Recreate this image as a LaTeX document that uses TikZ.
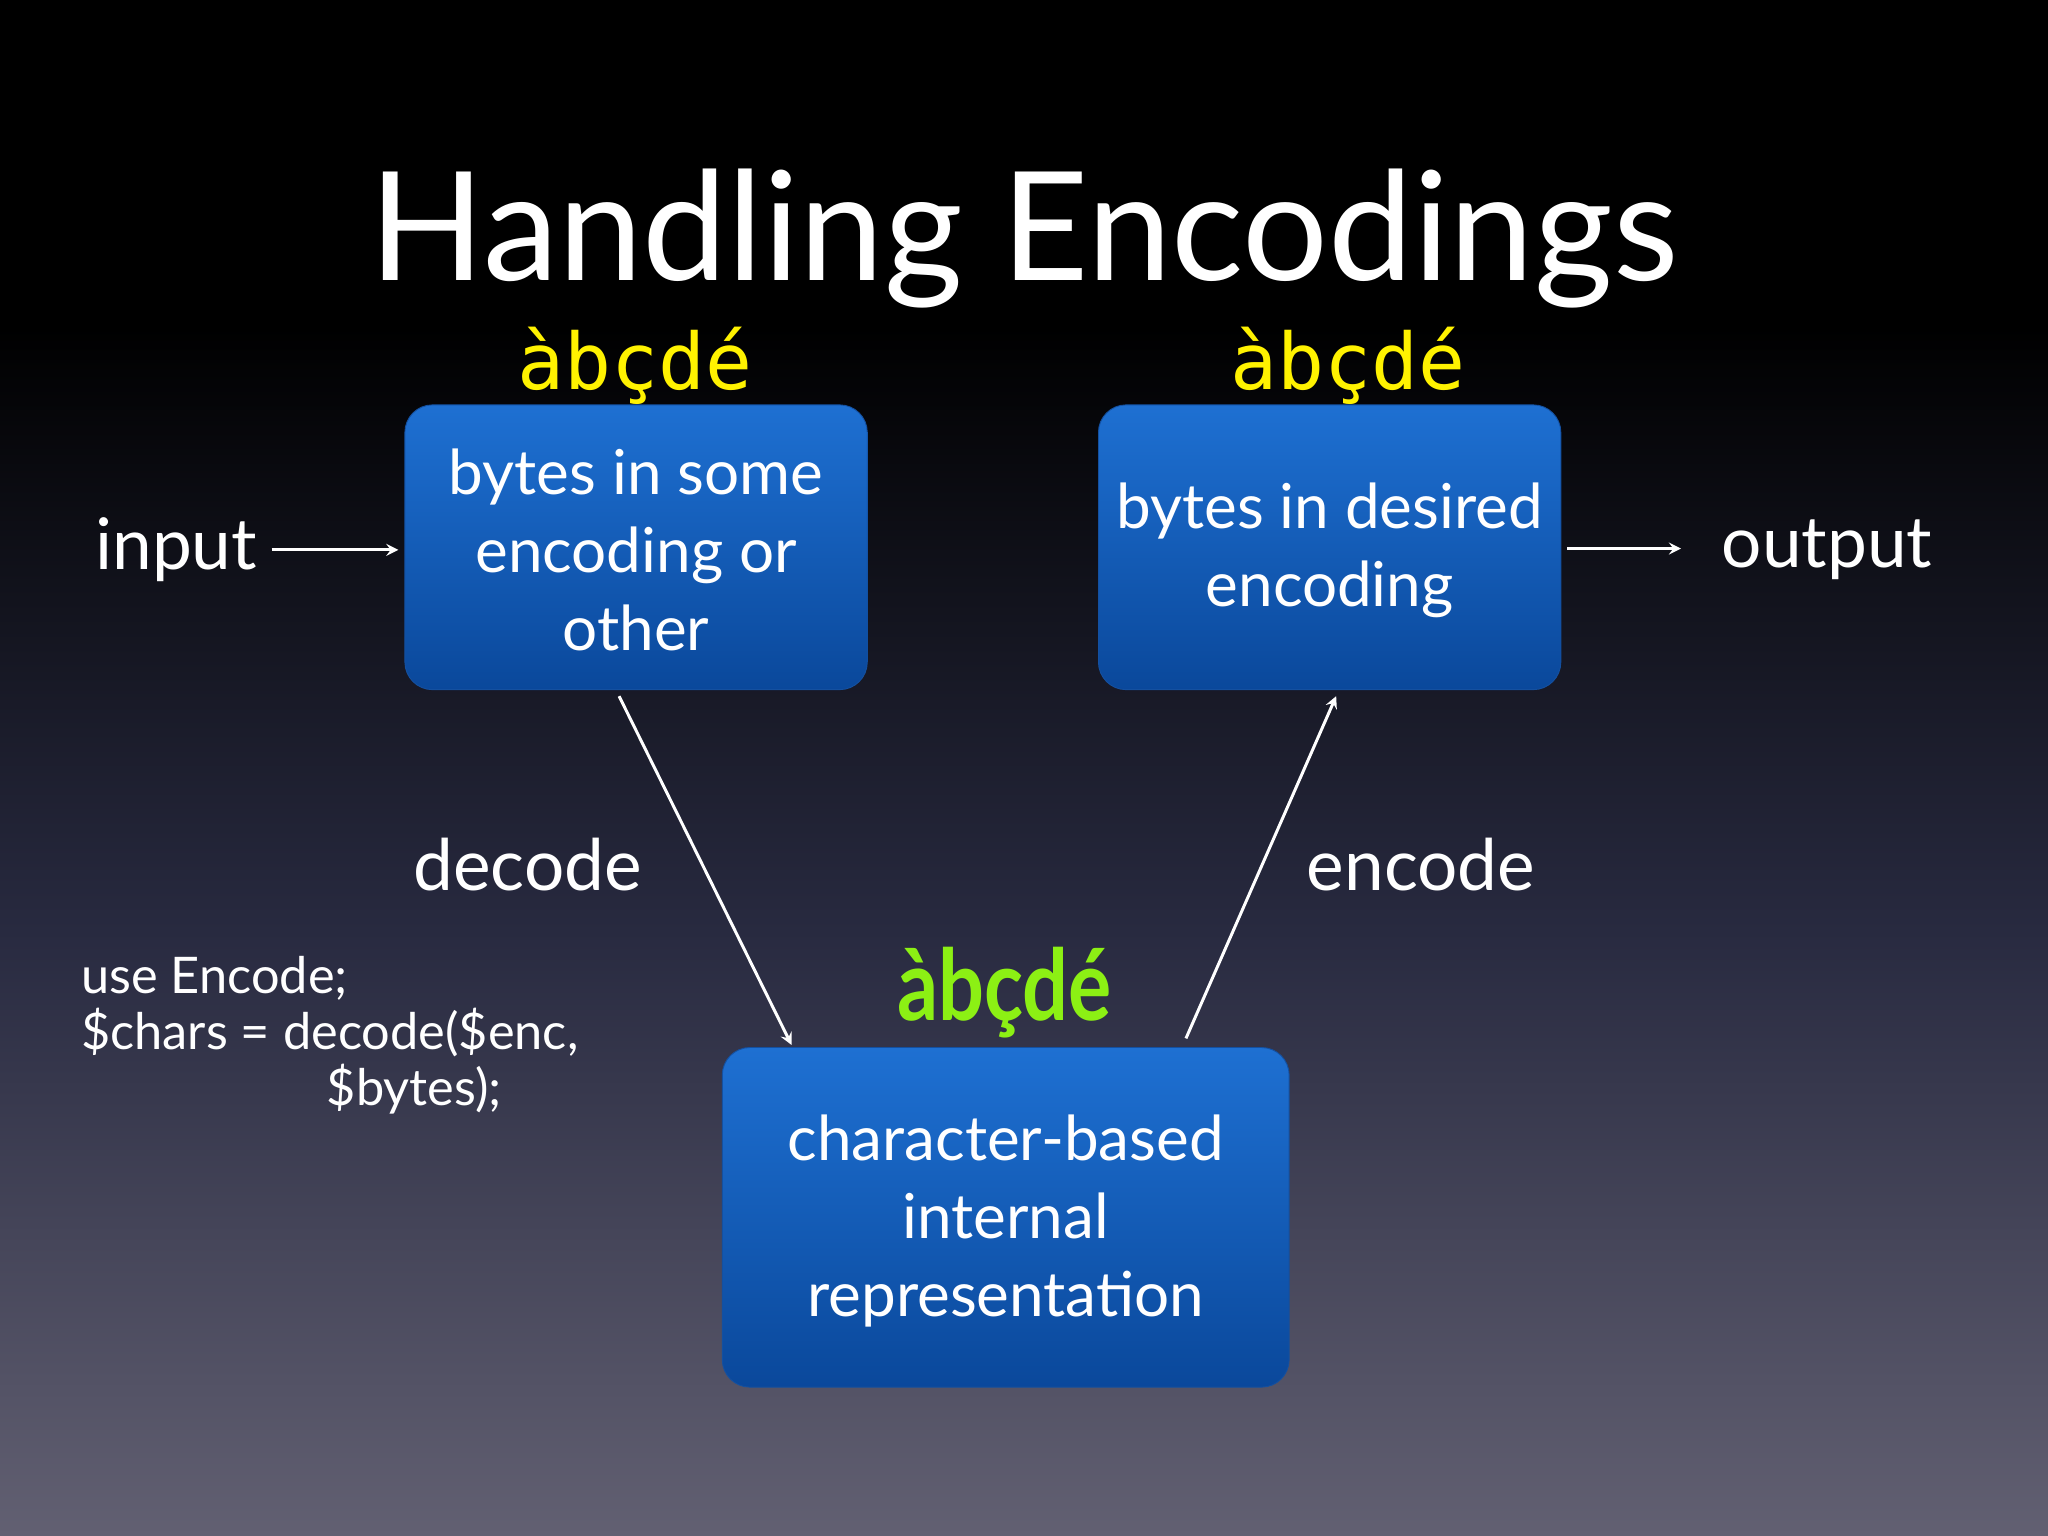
\documentclass[tikz,border=0pt]{standalone}
\usepackage{fontspec}
\setmainfont{Lato}
\newfontfamily\accmono{DejaVu Sans Mono}
\definecolor{bgbot}{RGB}{98,96,114}
\definecolor{bgmid}{RGB}{40,42,64}
\definecolor{btop}{RGB}{30,112,210}
\definecolor{bbot}{RGB}{10,72,155}
\definecolor{bdraw}{RGB}{20,80,160}
\definecolor{accgreen}{RGB}{140,240,20}
\begin{document}
\begin{tikzpicture}[x=0.02cm,y=-0.02cm,
  box/.style={rounded corners=12pt,top color=btop,bottom color=bbot,draw=bdraw},
  btxt/.style={text=white,align=center,font=\fontsize{27}{34}\selectfont},
  lbl/.style={text=white,font=\fontsize{31}{36}\selectfont},
  acc/.style={text=yellow,font=\accmono\fontsize{34}{38}\selectfont},
  arr/.style={white,line width=1.3pt,-stealth}]
\useasboundingbox (0,0) rectangle (1568,1176);
\fill[black] (0,0) rectangle (1568,250);
\shade[top color=black,bottom color=bgbot,middle color=bgmid] (0,250) rectangle (1568,1176);
\node[text=white,font=\fontsize{66}{74}\selectfont] (title) at (784,183) {Handling Encodings};
\draw[box] (310,310) rectangle (664,528);
\node[btxt] (b1) at (487,421) {bytes in some\\encoding or\\other};
\draw[box] (841,310) rectangle (1195,528);
\node[btxt] (b2) at (1018,421) {bytes in desired\\encoding};
\draw[box] (553,802) rectangle (987,1062);
\node[btxt] (b3) at (770,935) {character-based\\internal\\representation};
\node[acc] (a1) at (486,280) {àbçdé};
\node[acc] (a2) at (1032,280) {àbçdé};
\node[text=accgreen,font=\bfseries\fontsize{43}{48}\selectfont,xscale=0.82] (a3) at (769,760) {àbçdé};
\node[lbl,anchor=east] (in) at (203,421) {input};
\node[lbl,anchor=west] (out) at (1312,421) {output};
\node[lbl] (dec) at (404,662) {decode};
\node[lbl] (enc) at (1088,662) {encode};
\node[text=white,anchor=north west,align=left,font=\fontsize{22}{24.5}\selectfont] (code) at (56,726) {use Encode;\\\$chars = decode(\$enc,\\\hspace*{3.76cm}\$bytes);};
\coordinate (p1) at (208,421); \coordinate (p2) at (305,421);
\coordinate (p3) at (1200,420); \coordinate (p4) at (1287,420);
\coordinate (d1) at (474,533); \coordinate (d2) at (606,800);
\coordinate (e1) at (908,795); \coordinate (e2) at (1023,533);
\draw[arr] (p1) -- (p2);
\draw[arr] (p3) -- (p4);
\draw[arr] (d1) -- (d2);
\draw[arr] (e1) -- (e2);
\end{tikzpicture}
\end{document}
